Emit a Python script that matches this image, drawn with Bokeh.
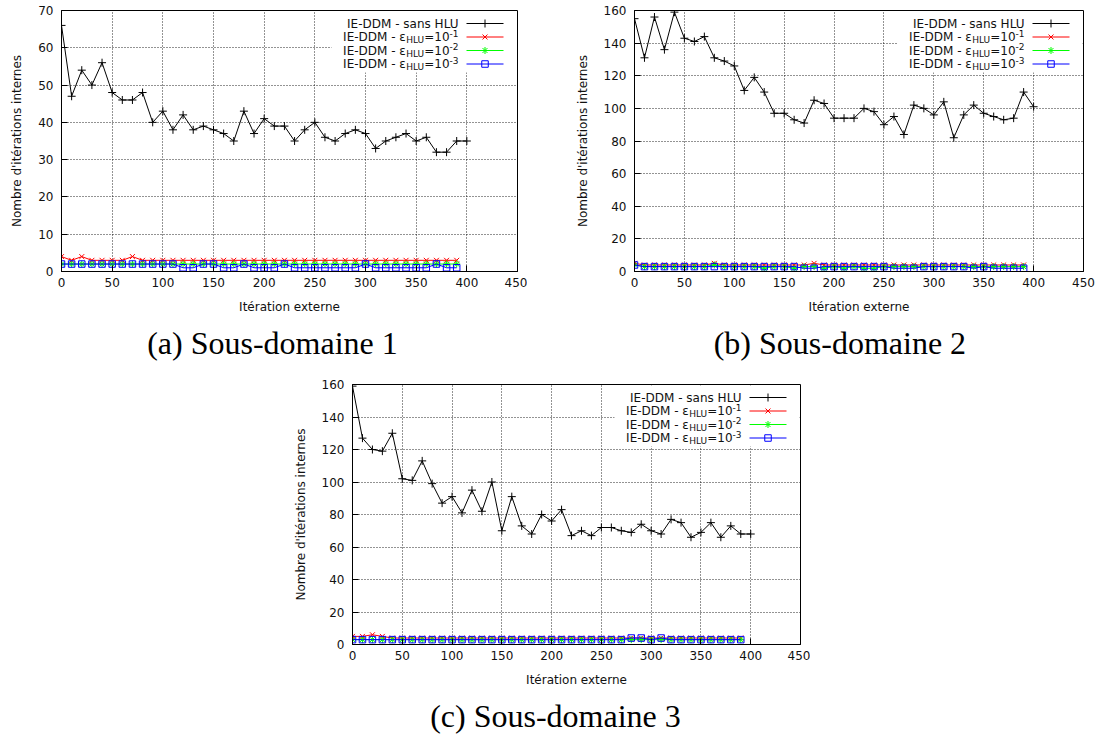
from bokeh.plotting import figure
from bokeh.models import Range1d, FixedTicker, Title, Spacer, ColumnDataSource
from bokeh.layouts import row, column
from bokeh.core.properties import value
from bokeh.embed import file_html
from bokeh.resources import INLINE

# ---------------- data ----------------
iter_long = [0, 10, 20, 30, 40, 50, 60, 70, 80, 90, 100, 110, 120, 130, 140, 150, 160, 170, 180, 190,
             200, 210, 220, 230, 240, 250, 260, 270, 280, 290, 300, 310, 320, 330, 340, 350, 360, 370,
             380, 390, 400]
iter_short = [0, 10, 20, 30, 40, 50, 60, 70, 80, 90, 100, 110, 120, 130, 140, 150, 160, 170, 180, 190,
              200, 210, 220, 230, 240, 250, 260, 270, 280, 290, 300, 310, 320, 330, 340, 350, 360, 370,
              380, 390]

x_ticks = [0, 50, 100, 150, 200, 250, 300, 350, 400, 450]
y_ticks_a = [0, 10, 20, 30, 40, 50, 60, 70]
y_ticks_bc = [0, 20, 40, 60, 80, 100, 120, 140, 160]

# Sous-domaine 1
sans_a = [66, 47, 54, 50, 56, 48, 46, 46, 48, 40, 43, 38, 42, 38, 39, 38, 37, 35, 43, 37,
          41, 39, 39, 35, 38, 40, 36, 35, 37, 38, 37, 33, 35, 36, 37, 35, 36, 32, 32, 35, 35]
eps1_a = [4, 3, 4, 3, 3, 3, 3, 4, 3, 3, 3, 3, 3, 3, 3, 3, 3, 3, 3, 3,
          3, 3, 3, 3, 3, 3, 3, 3, 3, 3, 3, 3, 3, 3, 3, 3, 3, 3, 3, 3]
eps2_a = [2, 2, 2, 2, 2, 2, 2, 2, 2, 2, 2, 2, 2, 2, 2, 2, 2, 2, 2, 2,
          2, 2, 2, 2, 2, 2, 2, 2, 2, 2, 2, 2, 2, 2, 2, 2, 2, 2, 2, 2]
eps3_a = [2, 2, 2, 2, 2, 2, 2, 2, 2, 2, 2, 2, 1, 1, 2, 2, 1, 1, 2, 1,
          1, 1, 2, 1, 1, 1, 1, 1, 1, 1, 2, 1, 1, 1, 1, 1, 1, 2, 1, 1]

# Sous-domaine 2
sans_b = [155, 131, 156, 136, 159, 143, 141, 144, 131, 129, 126, 111, 119, 110, 97, 97, 93, 91, 105, 103,
          94, 94, 94, 100, 98, 90, 95, 84, 102, 100, 96, 104, 82, 96, 102, 97, 95, 93, 94, 110, 101]
eps1_b = [5, 4, 4, 4, 4, 4, 4, 4, 5, 4, 4, 4, 4, 4, 4, 4, 4, 4, 5, 4,
          4, 4, 4, 4, 4, 4, 4, 4, 4, 4, 4, 4, 4, 4, 4, 4, 4, 4, 4, 4]
eps2_b = [4, 3, 3, 3, 3, 3, 3, 3, 4, 3, 3, 3, 3, 2, 3, 3, 2, 3, 3, 2,
          3, 2, 3, 2, 2, 3, 3, 3, 3, 3, 3, 3, 3, 3, 3, 3, 3, 3, 3, 3]
eps3_b = [4, 3, 3, 3, 3, 3, 3, 3, 3, 3, 3, 3, 3, 3, 3, 3, 3, 2, 2, 3,
          3, 3, 3, 3, 3, 3, 2, 2, 2, 3, 3, 3, 3, 3, 2, 3, 2, 2, 2, 2]

# Sous-domaine 3
sans_c = [159, 127, 120, 119, 130, 102, 101, 113, 99, 87, 91, 81, 95, 82, 100, 70, 91, 73, 68, 80,
          76, 83, 67, 70, 67, 72, 72, 70, 69, 74, 70, 68, 77, 75, 66, 69, 75, 66, 73, 68, 68]
eps1_c = [5, 5, 6, 5, 4, 4, 4, 4, 4, 4, 4, 4, 4, 4, 4, 4, 4, 4, 4, 4,
          4, 4, 4, 4, 4, 4, 4, 4, 4, 4, 4, 4, 4, 4, 4, 4, 4, 4, 4, 4]
eps2_c = [3, 3, 3, 3, 3, 3, 3, 3, 3, 3, 3, 3, 3, 3, 3, 3, 3, 3, 3, 3,
          3, 3, 3, 3, 3, 3, 3, 3, 3, 3, 3, 3, 3, 3, 3, 3, 3, 3, 3, 3]
eps3_c = [3, 3, 3, 3, 3, 3, 3, 3, 3, 3, 3, 3, 3, 3, 3, 3, 3, 3, 3, 3,
          3, 3, 3, 3, 3, 3, 3, 3, 4, 4, 3, 4, 3, 3, 3, 3, 3, 3, 3, 3]

legend_first = "IE-DDM - sans HLU"
legend_main = "IE-DDM - \u03b5"
legend_sub = "HLU"
legend_eq = "=10"
legend_exp = ["-1", "-2", "-3"]

x_label = "It\u00e9ration externe"
y_label = "Nombre d'it\u00e9rations internes"
captions = ["(a) Sous-domaine 1", "(b) Sous-domaine 2", "(c) Sous-domaine 3"]

series_colors = ["#000000", "#ff0000", "#00ff00", "#0000ff"]
series_markers = ["cross", "x", "asterisk", "square"]
series_sizes = [8, 7, 7, 6.5]

FONT = "DejaVu Sans"
CAP_FONT = "Liberation Serif"
CAP_SIZE = 32
CAP_EM = 7.832  # approx. width of the caption in em (Times metrics)


def make_panel(sans, e1, e2, e3, ymax, yticks, L, R, T, B, fw, fh, ylab_so, caption, cap_dx):
    p = figure(frame_width=fw, frame_height=fh,
               min_border_left=L, min_border_right=R, min_border_top=T, min_border_bottom=B,
               x_range=Range1d(0, 450), y_range=Range1d(0, ymax),
               output_backend="svg", toolbar_location=None,
               background_fill_color="white", border_fill_color="white")
    p.extra_x_ranges = {"px": Range1d(0, fw)}
    p.extra_y_ranges = {"px": Range1d(0, fh)}
    p.outline_line_color = "black"
    p.outline_line_width = 1
    p.outline_line_alpha = 1.0

    p.xaxis.ticker = FixedTicker(ticks=x_ticks)
    p.yaxis.ticker = FixedTicker(ticks=yticks)
    p.xaxis.axis_label = x_label
    p.yaxis.axis_label = y_label
    for ax in (p.xaxis, p.yaxis):
        ax.axis_line_color = "black"
        ax.major_tick_line_color = "black"
        ax.major_tick_in = 6
        ax.major_tick_out = 0
        ax.minor_tick_line_color = None
        ax.major_label_text_font = FONT
        ax.major_label_text_font_size = "12px"
        ax.major_label_text_color = "#111111"
        ax.axis_label_text_font = FONT
        ax.axis_label_text_font_size = "12px"
        ax.axis_label_text_font_style = "normal"
        ax.axis_label_text_color = "#111111"
    p.xaxis.major_label_standoff = 6
    p.yaxis.major_label_standoff = 8
    p.xaxis.axis_label_standoff = 10
    p.yaxis.axis_label_standoff = ylab_so

    p.grid.grid_line_color = "black"
    p.grid.grid_line_dash = "1 2"
    p.grid.grid_line_width = 1
    p.grid.grid_line_alpha = 0.85

    # data series
    data = [(iter_long, sans), (iter_short, e1), (iter_short, e2), (iter_short, e3)]
    for (xs, ys), col, mk, sz in zip(data, series_colors, series_markers, series_sizes):
        p.line(xs, ys, line_color=col, line_width=1)
        p.scatter(xs, ys, marker=mk, size=sz, line_color=col, fill_color=None, line_width=1)

    # key (gnuplot style: text right-aligned, sample on the right)
    p.quad(left=[fw - 186], right=[fw - 1], bottom=[fh - 62], top=[fh - 1],
           x_range_name="px", y_range_name="px", fill_color="white", line_color=None)
    rows_y = [fh - 13 - 13.5 * i for i in range(4)]
    p.segment(x0=[fw - 51] * 4, x1=[fw - 14] * 4, y0=rows_y, y1=rows_y,
              line_color=series_colors, line_width=1, x_range_name="px", y_range_name="px")
    msrc = ColumnDataSource(dict(x=[fw - 32.5] * 4, y=rows_y, marker=series_markers,
                                 color=series_colors, size=series_sizes))
    p.scatter(x="x", y="y", marker="marker", size="size", line_color="color", fill_color=None,
              line_width=1, source=msrc, x_range_name="px", y_range_name="px")

    E = fw - 59
    w_sup = 9 * (0.361 + 0.636)
    w_eq = 12 * (0.838 + 0.636 * 2)
    w_sub = 9 * (0.752 + 0.557 + 0.732)
    tx, ty, tt, ts = [E], [rows_y[0]], [legend_first], ["12px"]
    for i, ex in enumerate(legend_exp):
        yy = rows_y[i + 1]
        tx += [E - w_sup - w_eq - w_sub, E - w_sup - w_eq, E - w_sup, E]
        ty += [yy, yy - 3, yy, yy + 4]
        tt += [legend_main, legend_sub, legend_eq, ex]
        ts += ["12px", "9px", "12px", "9px"]
    tsrc = ColumnDataSource(dict(x=tx, y=ty, text=tt, size=ts))
    p.text(x="x", y="y", text="text", text_font_size="size", source=tsrc,
           text_font=value(FONT), text_align="right", text_baseline="middle",
           text_color="#111111", x_range_name="px", y_range_name="px")

    # caption below the panel
    cap_left = fw / 2 + cap_dx - CAP_EM * CAP_SIZE / 2
    p.add_layout(Title(text=caption, align="left", offset=cap_left,
                       text_font=CAP_FONT, text_font_size=f"{CAP_SIZE}px",
                       text_font_style="normal", text_color="black",
                       standoff=12), "below")
    return p


pa = make_panel(sans_a, eps1_a, eps2_a, eps3_a, 70, y_ticks_a,
                61, 10, 10, 95, 456, 261, 11, captions[0], -17)
pb = make_panel(sans_b, eps1_b, eps2_b, eps3_b, 160, y_ticks_bc,
                107, 17, 10, 95, 449, 261, 11, captions[1], -20)
pc = make_panel(sans_c, eps1_c, eps2_c, eps3_c, 160, y_ticks_bc,
                64, 10, 18, 94, 448, 260, 11, captions[2], -21)

layout = column(row(pa, pb), row(Spacer(width=288, height=10), pc))

open("out.html", "w").write(file_html(layout, INLINE))
